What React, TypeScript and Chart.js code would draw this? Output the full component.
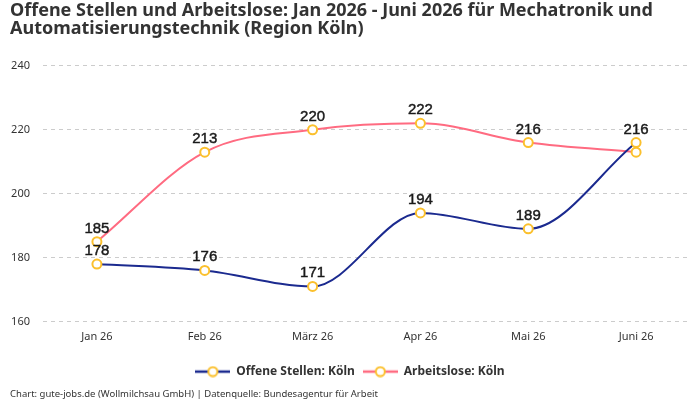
import React, { useEffect, useRef } from "react";
import { Chart, registerables } from "chart.js";

Chart.register(...registerables);

const months = ["Jan 26", "Feb 26", "März 26", "Apr 26", "Mai 26", "Juni 26"];
const offeneStellen = [178, 176, 171, 194, 189, 216];
const arbeitslose = [185, 213, 220, 222, 216, 213];
const yTicks = [160, 180, 200, 220, 240];

const titleLines = [
  "Offene Stellen und Arbeitslose: Jan 2026 - Juni 2026 für Mechatronik und",
  "Automatisierungstechnik (Region Köln)",
];
const footerText = "Chart: gute-jobs.de (Wollmilchsau GmbH) | Datenquelle: Bundesagentur für Arbeit";

const NAVY = "#1b2a8f";
const PINK = "#ff6b81";
const MARKER = "#fbc02d";
const FONT = "'Noto Sans', Roboto, sans-serif";

function legendIcon(color: string): HTMLCanvasElement {
  const c = document.createElement("canvas");
  c.width = 35;
  c.height = 12;
  const ctx = c.getContext("2d")!;
  ctx.strokeStyle = color;
  ctx.lineWidth = 2.5;
  ctx.beginPath();
  ctx.moveTo(0, 6);
  ctx.lineTo(35, 6);
  ctx.stroke();
  ctx.fillStyle = "#fff";
  ctx.strokeStyle = MARKER;
  ctx.lineWidth = 2;
  ctx.beginPath();
  ctx.arc(17.5, 6, 4.5, 0, Math.PI * 2);
  ctx.fill();
  ctx.stroke();
  return c;
}

// Value labels above each point; a label that would collide with one already drawn is skipped.
const valueLabels = {
  id: "valueLabels",
  afterDatasetsDraw(chart: any) {
    const ctx = chart.ctx;
    const boxes: { x1: number; y1: number; x2: number; y2: number }[] = [];
    ctx.save();
    ctx.font = "15px 'Liberation Sans', Arial, sans-serif";
    ctx.fillStyle = "#1a1a1a";
    ctx.strokeStyle = "#1a1a1a";
    ctx.lineWidth = 0.45;
    ctx.textAlign = "center";
    ctx.textBaseline = "alphabetic";
    chart.data.datasets.forEach((ds: any, di: number) => {
      const meta = chart.getDatasetMeta(di);
      meta.data.forEach((pt: any, i: number) => {
        const text = String(ds.data[i]);
        const w = ctx.measureText(text).width;
        const x = pt.x;
        const y = pt.y - 9;
        const box = { x1: x - w / 2, y1: y - 11, x2: x + w / 2, y2: y };
        const hit = boxes.some(
          (b) => box.x1 < b.x2 && box.x2 > b.x1 && box.y1 < b.y2 && box.y2 > b.y1
        );
        if (hit) return;
        boxes.push(box);
        ctx.fillText(text, x, y);
        ctx.strokeText(text, x, y);
      });
    });
    ctx.restore();
  },
};

export default function App() {
  const ref = useRef<HTMLCanvasElement>(null);

  useEffect(() => {
    document.body.style.margin = "0";
    const lineDataset = (label: string, data: number[], color: string) =>
      ({
        label,
        data,
        borderColor: color,
        backgroundColor: color,
        borderWidth: 2,
        cubicInterpolationMode: "monotone",
        pointRadius: 4.5,
        pointBorderWidth: 2,
        pointBackgroundColor: "#fff",
        pointBorderColor: MARKER,
        pointStyle: "circle",
      } as any);

    const chart = new Chart(ref.current!, {
      type: "line",
      data: {
        labels: months,
        datasets: [
          lineDataset("Offene Stellen: Köln", offeneStellen, NAVY),
          lineDataset("Arbeitslose: Köln", arbeitslose, PINK),
        ],
      },
      options: {
        animation: false,
        responsive: false,
        layout: { padding: { left: 10, right: 10, top: 1, bottom: 0 } },
        scales: {
          x: {
            offset: true,
            grid: { display: false },
            border: { display: false },
            ticks: { color: "#333", font: { family: FONT, size: 11 }, padding: 1 },
            afterFit: (axis: any) => {
              axis.height = 36;
            },
          },
          y: {
            min: 160,
            max: 240,
            afterBuildTicks: (axis: any) => {
              axis.ticks = yTicks.map((v) => ({ value: v }));
            },
            afterFit: (axis: any) => {
              axis.width = 33;
            },
            grid: { color: "#cccccc", lineWidth: 1, drawTicks: false },
            border: { display: false, dash: [4, 4] },
            ticks: { color: "#333", font: { family: FONT, size: 11 }, padding: 13 },
          },
        },
        plugins: {
          title: {
            display: true,
            text: titleLines,
            align: "start",
            color: "#333",
            font: { family: FONT, size: 18, weight: "bold", lineHeight: 1.05 },
            padding: { top: 0, bottom: 27 },
          },
          subtitle: {
            display: true,
            text: footerText,
            position: "bottom",
            align: "start",
            color: "#333",
            font: { family: FONT, size: 9.5 },
            padding: { top: 1, bottom: 0 },
          },
          legend: {
            position: "bottom",
            labels: {
              usePointStyle: true,
              pointStyleWidth: 35,
              color: "#333",
              font: { family: FONT, size: 12, weight: "bold" },
              padding: 8,
              generateLabels: (chart: any) =>
                chart.data.datasets.map((ds: any, i: number) => ({
                  text: ds.label,
                  pointStyle: legendIcon(ds.borderColor),
                  fontColor: "#333",
                  datasetIndex: i,
                  hidden: false,
                  lineWidth: 0,
                })),
            },
          },
          tooltip: { enabled: false },
        },
      },
      plugins: [valueLabels],
    });
    return () => chart.destroy();
  }, []);

  return (
    <div style={{ width: 700, height: 400 }}>
      <canvas ref={ref} width={700} height={400} />
    </div>
  );
}
